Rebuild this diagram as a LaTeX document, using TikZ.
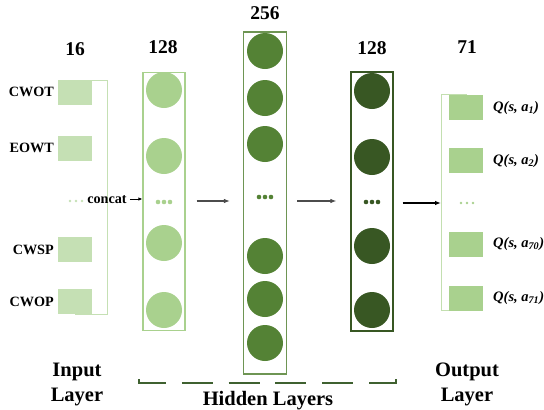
\documentclass[tikz,border=0pt]{standalone}
\usepackage{fontspec}
\setmainfont{Liberation Serif}
\usetikzlibrary{arrows.meta}
\definecolor{cin}{HTML}{C5E0B4}
\definecolor{cone}{HTML}{A9D18E}
\definecolor{ctwo}{HTML}{548235}
\definecolor{cthree}{HTML}{385723}
\definecolor{cbr}{HTML}{3F6130}
\begin{document}
\begin{tikzpicture}[x=1pt,y=-1pt,
  sq/.style={rectangle,minimum width=34pt,minimum height=25pt,inner sep=0pt},
  insq/.style={sq,fill=cin},
  outsq/.style={sq,fill=cone},
  neuron/.style={circle,minimum size=36pt,inner sep=0pt},
  layerbox/.style={rectangle,inner sep=0pt,fill=none},
  lbl/.style={font=\bfseries\fontsize{14.2}{16}\selectfont,inner sep=0pt},
  qlbl/.style={font=\bfseries\itshape\fontsize{14.5}{16}\selectfont,inner sep=0pt,anchor=west},
  num/.style={font=\bfseries\fontsize{19.5}{22}\selectfont,inner sep=0pt},
  title/.style={font=\bfseries\fontsize{20.5}{25}\selectfont,align=center,inner sep=0pt},
  arr/.style={line width=1.1pt,-{Latex[length=6pt,width=4.5pt]}},
]
\useasboundingbox (0,0) rectangle (544,410);

% ---------- input layer ----------
\draw[cin,line width=1pt] (75,80) -- (107,80) -- (107,314) -- (75,314);
\node[insq] (i1) at (75,92.5) {};
\node[insq] (i2) at (75,148) {};
\node[insq] (i3) at (75,249.5) {};
\node[insq] (i4) at (75,301.5) {};
\node[lbl,anchor=east] (l1) at (54,92) {CWOT};
\node[lbl,anchor=east] (l2) at (54,148) {EOWT};
\node[lbl,anchor=east] (l3) at (54,250) {CWSP};
\node[lbl,anchor=east] (l4) at (54,302) {CWOP};
\foreach \x in {70,76,82} \fill[cin] (\x,201) circle (1.4);
\node[lbl] (concat) at (107,200) {concat};
\node[num] (n16) at (75,49) {16};

% ---------- hidden layer 1 ----------
\node[layerbox,draw=cone,line width=1.2pt,minimum width=42pt,minimum height=258pt] (b1) at (164,201.5) {};
\foreach \y/\n in {90/a,156/b,243/c,310/d}
  \node[neuron,fill=cone] (h1\n) at (164,\y) {};
\foreach \x in {158,164,170} \fill[cone] (\x,202) circle (2.3);
\node[num] (n128a) at (163,47) {128};

% ---------- hidden layer 2 ----------
\node[layerbox,draw=ctwo!85,line width=1.2pt,minimum width=43pt,minimum height=342pt] (b2) at (265,203) {};
\foreach \y/\n in {51/a,98/b,144/c,256/d,299/e,343/f}
  \node[neuron,fill=ctwo] (h2\n) at (265,\y) {};
\foreach \x in {259,265,271} \fill[ctwo] (\x,197) circle (2.3);
\node[num] (n256) at (265,13) {256};

% ---------- hidden layer 3 ----------
\node[layerbox,draw=cthree,line width=1.2pt,minimum width=42pt,minimum height=259pt] (b3) at (372,201.5) {};
\foreach \y/\n in {91/a,157/b,246/c,310/d}
  \node[neuron,fill=cthree] (h3\n) at (372,\y) {};
\foreach \x in {366,372,378} \fill[cthree] (\x,202) circle (2.3);
\node[num] (n128b) at (372,48) {128};

% ---------- output layer ----------
\draw[cone!70,line width=1pt] (467,94) -- (441,94) -- (441,310) -- (467,310);
\coordinate (outin) at (441,203);
\node[outsq] (o1) at (466,107.5) {};
\node[outsq] (o2) at (466,160.5) {};
\node[outsq] (o3) at (466,244) {};
\node[outsq] (o4) at (466,298) {};
\foreach \x in {461,467,473} \fill[cone] (\x,203) circle (1.4);
\node[qlbl] (q1) at (493,108) {Q(s, a\textsubscript{1})};
\node[qlbl] (q2) at (493,161) {Q(s, a\textsubscript{2})};
\node[qlbl] (q3) at (493,244) {Q(s, a\textsubscript{70})};
\node[qlbl] (q4) at (493,298) {Q(s, a\textsubscript{71})};
\node[num] (n71) at (467,47) {71};

% ---------- arrows ----------
\draw[arr,line width=0.9pt,-{Latex[length=4pt,width=3.5pt]}] (concat.east) ++(3pt,1pt) coordinate (cst) (cst) -- (b1.west |- cst);
\draw[arr,black!70,shorten <=11pt,shorten >=13pt] (b1.east |- 0,201) -- (b2.west |- 0,201);
\draw[arr,black!70,shorten <=10pt,shorten >=14pt] (b2.east |- 0,201) -- (b3.west |- 0,201);
\draw[arr,black,shorten <=9pt] (b3.east |- outin) -- (outin);

% ---------- titles ----------
\node[title] (tin) at (77,384.5) {Input\\Layer};
\node[title] (tout) at (467,384.5) {Output\\Layer};
\draw[cbr,line width=1.5pt,dash pattern=on 31pt off 15.8pt] (139,379) -- (139,383) -- (396,383) -- (396,379);
\node[title] (thid) at (268,401) {Hidden Layers};
\end{tikzpicture}
\end{document}
